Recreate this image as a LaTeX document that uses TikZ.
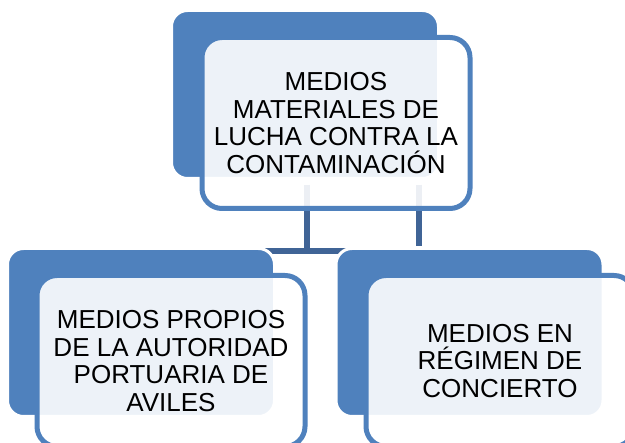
\documentclass[tikz,border=0pt]{standalone}
\usepackage{fontspec}
\setmainfont{Liberation Sans}
\usetikzlibrary{calc}
\definecolor{accent}{RGB}{79,129,189}
\definecolor{connblue}{RGB}{64,100,150}
\tikzset{
  backbox/.style={fill=accent, draw=white, line width=3pt, rounded corners=16pt, minimum width=267pt, minimum height=168pt, inner sep=0pt},
  frontbox/.style={draw=accent, line width=5pt, fill=white, fill opacity=0.9, text opacity=1, rounded corners=20pt, minimum width=268pt, minimum height=171pt, inner sep=0pt, align=center, font=\fontsize{26}{27.6}\selectfont, text=black},
  conn/.style={draw=connblue, line width=5.5pt}
}
\begin{document}
\begin{tikzpicture}[x=1pt,y=-1pt]
\useasboundingbox (0,0) rectangle (625,443);
\clip (0,0) rectangle (625,443);
\fill[white] (0,0) rectangle (625,443);
% connector anchors
\coordinate (h1) at (141,251);
\coordinate (h2) at (469.5,251);
\draw[conn] (h1) -- (h2);
% back boxes (white outline hides the connector ends)
\node[backbox] (pb) at (305,94.5) {};
\node[backbox] (c1b) at (141,332.5) {};
\node[backbox] (c2b) at (469.5,332.5) {};
\coordinate (t1) at ($(pb.south)+(2,5)$);
\coordinate (t2) at ($(pb.south)+(114,5)$);
\draw[conn] (t1) -- (t1 |- h1);
\draw[conn] (t2) -- ++(0,61);
% front boxes with text
\node[frontbox] (p) at (336,123) {MEDIOS\\MATERIALES DE\\LUCHA CONTRA LA\\CONTAMINACIÓN};
\node[frontbox] (c1) at (171,361) {MEDIOS PROPIOS\\DE LA AUTORIDAD\\PORTUARIA DE\\AVILES};
\node[frontbox] (c2) at (500,361) {MEDIOS EN\\RÉGIMEN DE\\CONCIERTO};
\end{tikzpicture}
\end{document}
